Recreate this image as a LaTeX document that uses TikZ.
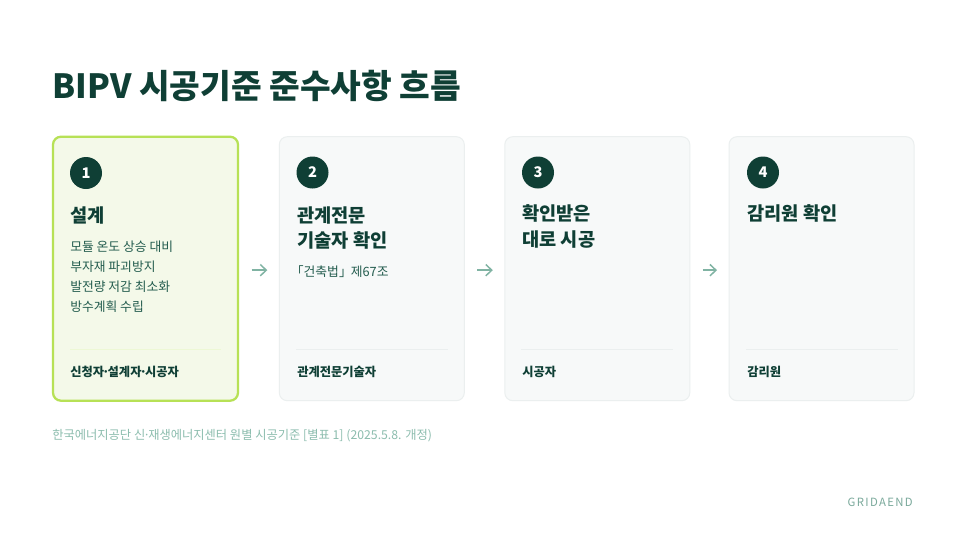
\documentclass[tikz,border=0pt]{standalone}
\usepackage{fontspec}
\setmainfont{Noto Sans CJK KR}
\usetikzlibrary{arrows.meta}

\definecolor{deepgreen}{HTML}{0F3F35}
\definecolor{tealtext}{HTML}{235C4E}
\definecolor{limeborder}{HTML}{B7E156}
\definecolor{limefill}{HTML}{F4F9E9}
\definecolor{cardfill}{HTML}{F7F9F9}
\definecolor{cardline}{HTML}{EBEFEF}
\definecolor{arrowgreen}{HTML}{80B3A3}
\definecolor{notegreen}{HTML}{8CBDAE}
\definecolor{markgreen}{HTML}{7AA99B}

% tight middle dot
\newcommand{\mdot}{\kern-.16em·\kern-.16em}

\tikzset{
  card/.style={draw=cardline, fill=cardfill, line width=0.75pt, rounded corners=6pt,
    minimum width=138.75pt, minimum height=198pt, inner sep=0pt},
  firstcard/.style={card, draw=limeborder, fill=limefill, line width=1.7pt},
  stepnum/.style={circle, fill=deepgreen, text=white, minimum size=24pt, inner sep=0pt,
    font=\bfseries\fontsize{11}{11}\selectfont},
  cardtitle/.style={anchor=west, align=left, inner sep=0pt, text=deepgreen,
    font=\bfseries\fontsize{14}{19}\selectfont},
  cardtext/.style={anchor=west, align=left, inner sep=0pt, text=tealtext,
    font=\fontsize{9.6}{15}\selectfont},
  cardwho/.style={anchor=west, inner sep=0pt, text=deepgreen,
    font=\bfseries\fontsize{9.2}{10}\selectfont},
  divider/.style={draw=cardline, line width=0.75pt},
  flowarrow/.style={draw=arrowgreen, line width=1.1pt, -{Straight Barb[length=4.5pt,width=8.5pt]},
    shorten <=9.4pt, shorten >=8.6pt},
}

\begin{document}
\begin{tikzpicture}[x=0.75pt,y=-0.75pt]
  \useasboundingbox[fill=white] (0,0) rectangle (966,543);

  % heading
  \node[anchor=west, inner sep=0pt, text=deepgreen, font=\bfseries\fontsize{25}{25}\selectfont]
    (head) at (52,86) {BIPV 시공기준 준수사항 흐름};

  % cards
  \node[firstcard] (c1) at (145.5,268.7) {};
  \node[card] (c2) at (371.8,268.7) {};
  \node[card] (c3) at (597.3,268.7) {};
  \node[card] (c4) at (821.5,268.7) {};

  % step 1
  \node[stepnum] (n1) at (86,173) {1};
  \node[cardtitle] (t1) at (70,215) {설계};
  \node[cardtext] (b1) at (70,277) {모듈 온도 상승 대비\\부자재 파괴방지\\발전량 저감 최소화\\방수계획 수립};
  \draw[divider, draw=limeborder!25] (70,349.5) -- (221,349.5);
  \node[cardwho] (w1) at (70,371.5) {신청자\mdot 설계자\mdot 시공자};

  % step 2
  \node[stepnum] (n2) at (312.5,172.5) {2};
  \node[cardtitle] (t2) at (297,227.7) {관계전문\\기술자 확인};
  \node[cardtext] (b2) at (297,271.5) {\kern-.5em「건축법」\kern-.3em\ 제67조};
  \draw[divider] (296,349.5) -- (447.5,349.5);
  \node[cardwho] (w2) at (297,371.5) {관계전문기술자};

  % step 3
  \node[stepnum] (n3) at (538,172.5) {3};
  \node[cardtitle] (t3) at (522,226.5) {확인받은\\대로 시공};
  \draw[divider] (521,349.5) -- (672.5,349.5);
  \node[cardwho] (w3) at (522,371.5) {시공자};

  % step 4
  \node[stepnum] (n4) at (763,172.5) {4};
  \node[cardtitle] (t4) at (747,213.5) {감리원 확인};
  \draw[divider] (746,349.5) -- (897.5,349.5);
  \node[cardwho] (w4) at (747,371.5) {감리원};

  \draw[flowarrow] ([yshift=-1.1pt]c1.east) -- ([yshift=-1.1pt]c2.west);
  \draw[flowarrow] ([yshift=-1.1pt]c2.east) -- ([yshift=-1.1pt]c3.west);
  \draw[flowarrow] ([yshift=-1.1pt]c3.east) -- ([yshift=-1.1pt]c4.west);

  % source note and mark
  \node[anchor=west, inner sep=0pt, text=notegreen, font=\fontsize{9.2}{10}\selectfont]
    (src) at (52,436) {한국에너지공단 신\mdot 재생에너지센터 원별 시공기준 [별표 1] (2025.5.8. 개정)};
  \node[anchor=east, inner sep=0pt, text=markgreen,
    font=\fontsize{8.5}{8.5}\selectfont\addfontfeature{LetterSpace=12}]
    (mark) at (913,502.5) {GRIDAEND};
\end{tikzpicture}
\end{document}
